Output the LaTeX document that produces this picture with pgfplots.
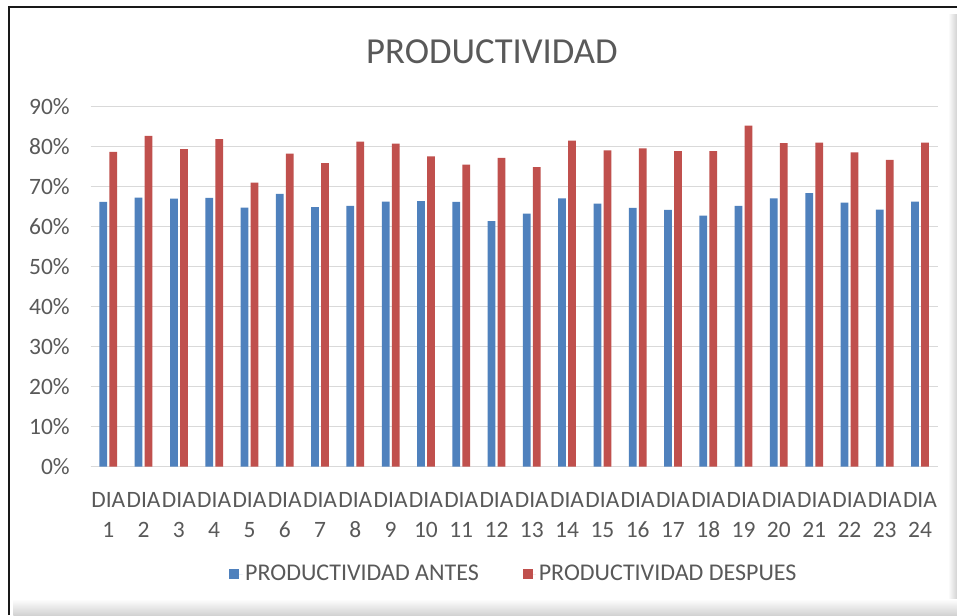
\documentclass[border=0pt]{standalone}
\usepackage{fontspec}
\setmainfont{Carlito}
\usepackage{pgfplots}
\pgfplotsset{compat=1.18}
\definecolor{cblue}{HTML}{4F81BD}
\definecolor{cred}{HTML}{C0504D}
\definecolor{ctext}{HTML}{595959}
\definecolor{cgrid}{HTML}{D9D9D9}
\begin{document}
\begin{tikzpicture}
\path[use as bounding box] (0,0) rectangle (717.75pt,461.25pt);
\fill[white] (0,0) rectangle (717.75pt,461.25pt);
% shadows
\shade[left color=white, right color=gray!35] (711pt,0pt) rectangle (717.75pt,450pt);
\shade[top color=white, bottom color=gray!35] (10pt,0pt) rectangle (717.75pt,12pt);
% border
\draw[line width=1.5pt, black!90] (6.75pt,0pt) -- (6.75pt,456pt) -- (717.75pt,456pt);
% title
\node[anchor=base, text=ctext, font=\fontsize{27.5pt}{32pt}\selectfont, inner sep=0pt] at (369pt,413.8pt) {PRODUCTIVIDAD};
\begin{axis}[
  at={(68pt,111.2pt)}, anchor=south west,
  scale only axis, width=635.25pt, height=270pt,
  ybar, bar width=5.8pt,
  xmin=0.5, xmax=24.5, ymin=0, ymax=90,
  xtick={1,...,24},
  xticklabels={{DIA\\1},{DIA\\2},{DIA\\3},{DIA\\4},{DIA\\5},{DIA\\6},{DIA\\7},{DIA\\8},{DIA\\9},{DIA\\10},{DIA\\11},{DIA\\12},{DIA\\13},{DIA\\14},{DIA\\15},{DIA\\16},{DIA\\17},{DIA\\18},{DIA\\19},{DIA\\20},{DIA\\21},{DIA\\22},{DIA\\23},{DIA\\24}},
  ytick={0,10,...,90},
  yticklabels={0\%,10\%,20\%,30\%,40\%,50\%,60\%,70\%,80\%,90\%},
  major tick length=0pt,
  axis line style={draw=none},
  ymajorgrids, grid style={cgrid, line width=1.1pt},
  xticklabel style={font=\fontsize{17.6pt}{22.5pt}\selectfont, text=ctext, align=center, inner sep=0pt, yshift=-18.75pt},
  yticklabel style={font=\fontsize{17.6pt}{21pt}\selectfont, text=ctext, anchor=east, inner sep=0pt, xshift=-15.5pt},
  legend style={at={(0.5,-0.298)}, anchor=center, draw=none, fill=none, legend columns=2,
    font=\fontsize{18pt}{21pt}\selectfont, text=ctext,
    /tikz/every even column/.append style={column sep=31pt}},
  legend image code/.code={\fill[#1] (0pt,-3.75pt) rectangle (7.5pt,3.75pt); \path (0pt,0pt) -- (10pt,0pt);},
  legend cell align=left,
]
\draw[cgrid, line width=1.1pt] (axis cs:0.5,0) -- (axis cs:24.5,0);
\addplot[fill=cblue, draw=none, bar shift=-3.75pt] coordinates {
(1,66.2) (2,67.3) (3,67.0) (4,67.2) (5,64.8) (6,68.2) (7,64.9) (8,65.2) (9,66.3) (10,66.4) (11,66.2) (12,61.4)
(13,63.3) (14,67.1) (15,65.8) (16,64.7) (17,64.2) (18,62.8) (19,65.2) (20,67.1) (21,68.4) (22,66.0) (23,64.3) (24,66.3)};
\addplot[fill=cred, draw=none, bar shift=3.75pt] coordinates {
(1,78.7) (2,82.7) (3,79.4) (4,81.9) (5,71.0) (6,78.3) (7,75.9) (8,81.3) (9,80.8) (10,77.6) (11,75.5) (12,77.2)
(13,74.9) (14,81.5) (15,79.1) (16,79.6) (17,78.9) (18,78.9) (19,85.3) (20,80.9) (21,81.0) (22,78.6) (23,76.7) (24,81.0)};
\legend{PRODUCTIVIDAD ANTES, PRODUCTIVIDAD DESPUES}
\end{axis}
\end{tikzpicture}
\end{document}
